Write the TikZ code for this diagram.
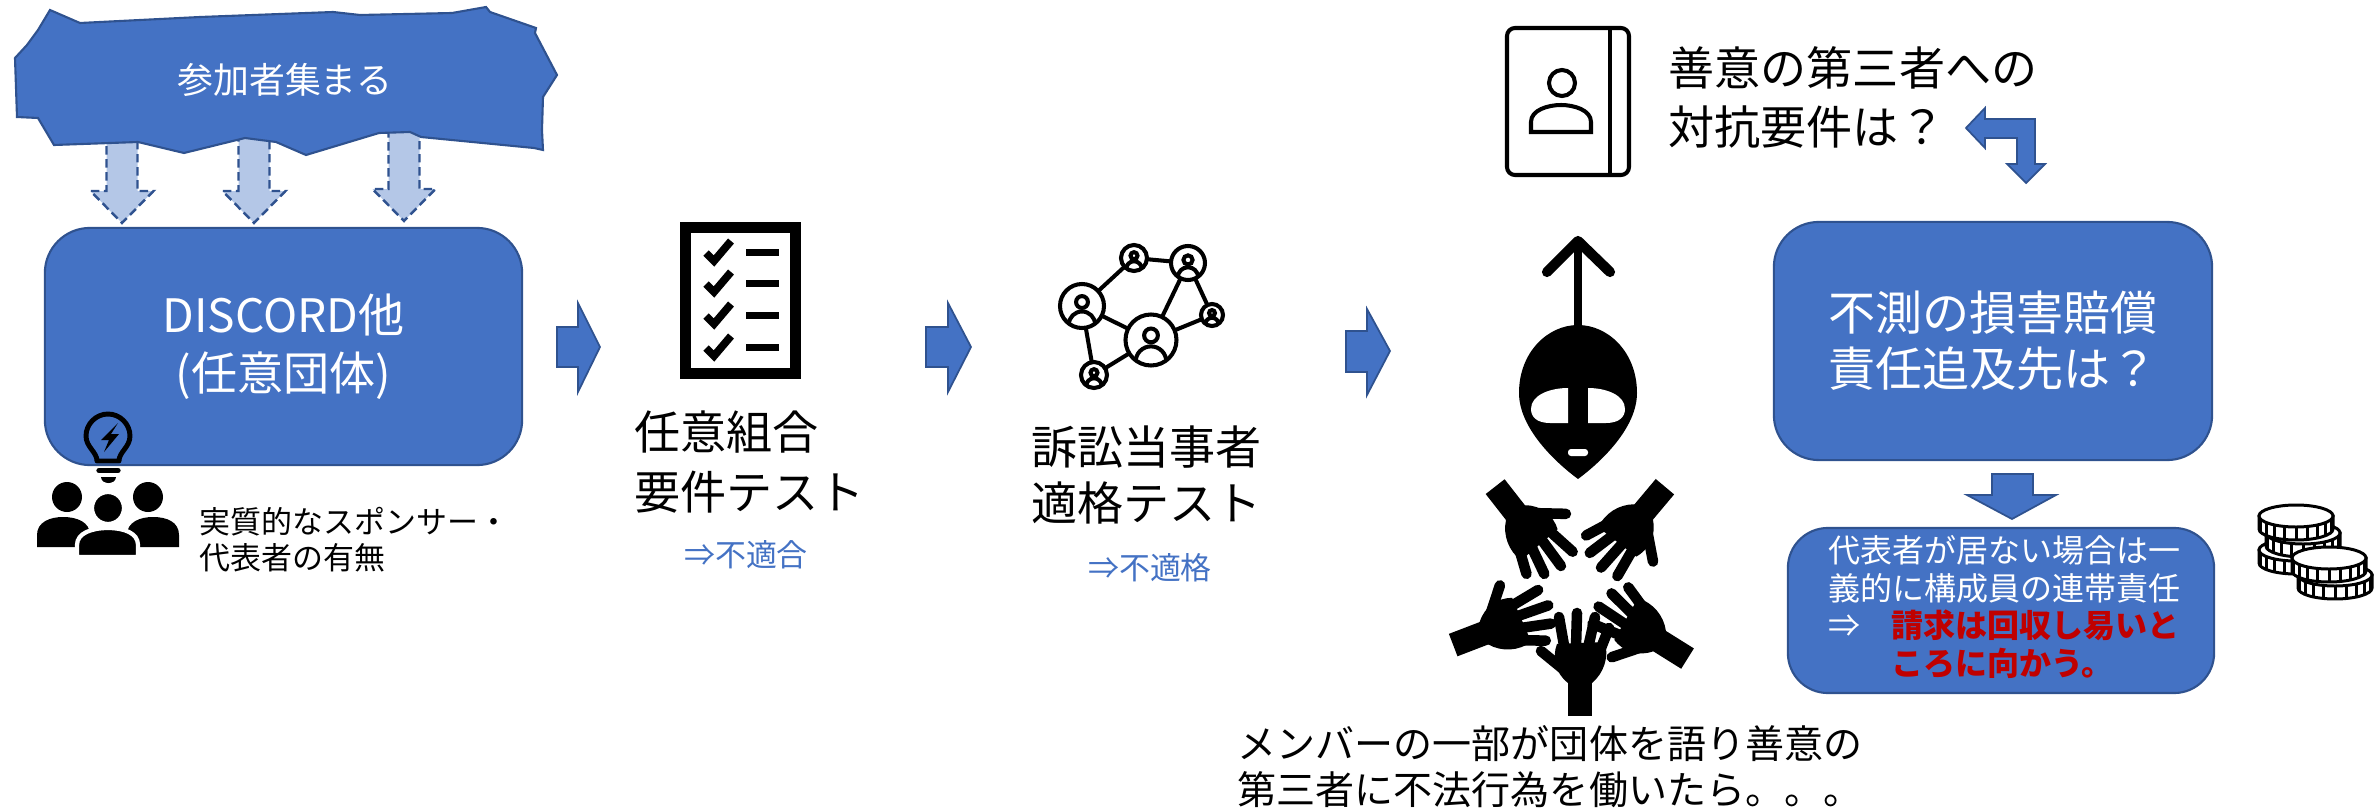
\documentclass[tikz,border=0pt]{standalone}
\usepackage{fontspec}
\setmainfont{Noto Sans CJK JP}
\definecolor{accent}{HTML}{4472C4}
\definecolor{accentdark}{HTML}{2F528F}
\definecolor{accentlight}{HTML}{B4C7E7}
\definecolor{alert}{HTML}{C00000}
\newcommand\fs[2]{\fontsize{#1}{#2}\selectfont}

% one coin: centre of the top face (#1,#2)
\newcommand\drawcoin[2]{%
  \filldraw[coinline,fill=white] (#1-37,#2) -- (#1-37,#2+13)
    .. controls (#1-37,#2+19.1) and (#1-20.4,#2+24) .. (#1,#2+24)
    .. controls (#1+20.4,#2+24) and (#1+37,#2+19.1) .. (#1+37,#2+13)
    -- (#1+37,#2) -- cycle;
  \foreach \t in {18,36,...,162}{\draw[coinline] ({#1+37*cos(\t)},{#2+11*sin(\t)}) -- ++(0,13);}
  \filldraw[coinline,fill=white] (#1,#2) ellipse[x radius=37,y radius=11];
}
% one member of the network: centre (#1,#2), radius #3
\newcommand\netperson[3]{%
  \filldraw[netline,fill=white] (#1,#2) circle[radius=#3];
  \begin{scope}
    \clip (#1,#2) circle[radius=#3];
    \draw[netline] (#1,#2+0.85*#3) circle[radius=0.6*#3];
  \end{scope}
  \draw[netline] (#1,#2-0.18*#3) circle[radius=0.27*#3];
}

\tikzset{
  bluebox/.style={draw=accentdark,fill=accent,line width=0.6pt,rounded corners=0.45cm,
    text=white,align=center,inner sep=0},
  blockarrow/.style={draw=accentdark,fill=accent,line width=0.5pt},
  dasharrow/.style={draw=accentdark,fill=accentlight,line width=0.7pt,dash pattern=on 2.4pt off 1.3pt},
  txt/.style={inner sep=0,align=left,anchor=west},
  coinline/.style={draw=black,line width=0.85pt},
  netline/.style={draw=black,line width=1.15pt},
  hand/.pic={
    \fill (-12,3) rectangle (12,-34);
    \fill (-12,-30) .. controls (-25,-40) and (-28,-56) .. (-23,-69) -- (25,-71)
      .. controls (29,-56) and (24,-40) .. (12,-30) -- cycle;
    \draw[line width=3pt,line cap=round]
      (-15,-62) -- (-21,-96) (-4,-66) -- (-3,-100) (8,-65) -- (15,-96)
      (19,-60) -- (29,-85) (-17,-44) -- (-39,-62);
  }
}

\begin{document}
\begin{tikzpicture}[x=0.01cm,y=-0.01cm]
\useasboundingbox (0,0) rectangle (2374,809);

% ---------- participants gather ----------
\foreach \c/\t in {122/191,254/191,404/189}{
  \path[dasharrow] (\c-15.5,120) -- (\c+15.5,120) -- (\c+15.5,\t) -- (\c+31.5,\t)
    -- (\c,\t+32) -- (\c-31.5,\t) -- (\c-15.5,\t) -- cycle;
}
\filldraw[draw=accentdark,fill=accent,line width=0.6pt]
  (50,10) -- (80,23) -- (200,17) -- (333,12) -- (360,15) -- (452,13) -- (486,7) -- (490,12)
  -- (536,28) -- (535,33) -- (557,75) -- (543,97) -- (542,130) -- (543,150) -- (534,148)
  -- (421,137) -- (410,132) -- (379,133) -- (306,155) -- (276,142) -- (245,138)
  -- (184,153) -- (138,142) -- (54,145) -- (38,118) -- (17,117) -- (15,58) -- (27,45)
  -- (38,30) -- cycle;
\node[inner sep=0,text=white,font={\fs{10.2pt}{12pt}}] (gather) at (285,80) {参加者集まる};

% ---------- voluntary group ----------
\node[bluebox,minimum width=4.77cm,minimum height=2.37cm,font={\fs{13.1pt}{16.5pt}}]
  (discord) at (283.5,346.5) {DISCORD他\\(任意団体)};

% light bulb
\draw[line width=1.4pt,line join=round] (97,461) .. controls (97,452) and (86,447) .. (86,436)
  .. controls (86,424) and (96,414) .. (108,414) .. controls (120,414) and (130,424) .. (130,436)
  .. controls (130,447) and (119,452) .. (119,461) -- cycle;
\fill (118,423) -- (101,440) -- (109,440) -- (104,452) -- (119,434) -- (111,434) -- cycle;
\draw[line width=1.5pt,line cap=round] (99,470.5) -- (118,470.5);
\fill (101,477) -- (116,477) .. controls (116,481) and (112,483) .. (108.5,483)
  .. controls (105,483) and (101,481) .. (101,477) -- cycle;

% group of people
\fill (67,497) circle[radius=15];
\fill (148,497) circle[radius=15];
\fill (37,547) -- (37,535) .. controls (37,522) and (50,517) .. (63,517)
  .. controls (77,517) and (90,522) .. (90,535) -- (90,547) -- cycle;
\fill (127,547) -- (127,535) .. controls (127,522) and (140,517) .. (153,517)
  .. controls (167,517) and (179,522) .. (179,535) -- (179,547) -- cycle;
\filldraw[fill=black,draw=white,line width=1.2pt] (108,508) circle[radius=16];
\filldraw[fill=black,draw=white,line width=1.2pt] (77,557) -- (77,545)
  .. controls (77,533) and (92,528) .. (108,528) .. controls (124,528) and (138,533) .. (138,545)
  -- (138,557) -- cycle;
\node[txt,font={\fs{8.8pt}{10.3pt}}] (sponsor) at (199,540) {実質的なスポンサー・\\代表者の有無};

% ---------- step arrows ----------
\path[blockarrow] (557,327) -- (578,327) -- (578,303) -- (600,347) -- (578,392) -- (578,367) -- (557,367) -- cycle;
\path[blockarrow] (926,327) -- (948,327) -- (948,303) -- (971,347) -- (948,392) -- (948,367) -- (926,367) -- cycle;
\path[blockarrow] (1346,331) -- (1367,331) -- (1367,309) -- (1390,351) -- (1367,395) -- (1367,372) -- (1346,372) -- cycle;

% ---------- checklist ----------
\draw[line width=3.1pt] (685.5,227.5) rectangle (795.5,373.5);
\foreach \y in {252,283,315,347}{
  \draw[line width=2.2pt] (706,\y+1) -- (714,\y+9) -- (731,\y-11);
  \fill (746,\y-3.5) rectangle (779,\y+3.5);
}
\node[txt,font={\fs{13.1pt}{16.8pt}}] (kumiai) at (634,462) {任意組合\\要件テスト};
\node[inner sep=0,text=accent,font={\fs{8.8pt}{10pt}}] (futekigo) at (746,555) {⇒不適合};

% ---------- network ----------
\coordinate (nA) at (1134,258);
\coordinate (nB) at (1188,263);
\coordinate (nC) at (1082,306);
\coordinate (nD) at (1212,315);
\coordinate (nE) at (1151,340);
\coordinate (nF) at (1094,375);
\draw[netline] (nA) -- (nB) (nA) -- (nC) (nC) -- (nE) (nC) -- (nF) (nF) -- (nE)
  (nE) -- (nB) (nE) -- (nD) (nB) -- (nD);
\netperson{1134}{258}{13}
\netperson{1188}{263}{17}
\netperson{1082}{306}{22}
\netperson{1212}{315}{11}
\netperson{1151}{340}{25.5}
\netperson{1094}{375}{13}
\node[txt,font={\fs{13.1pt}{15.9pt}}] (sosho) at (1031,475) {訴訟当事者\\適格テスト};
\node[inner sep=0,text=accent,font={\fs{8.8pt}{10pt}}] (futekikaku) at (1150,568) {⇒不適格};

% ---------- alien and hands ----------
\draw[line width=2pt] (1578,330) -- (1578,245);
\draw[line width=2.9pt,line cap=round,line join=round] (1547,272) -- (1578,241) -- (1610,272);
\fill (1578,479) .. controls (1555,462) and (1519,428) .. (1519,393)
  .. controls (1519,352) and (1548,325) .. (1578,325) .. controls (1608,325) and (1637,352) .. (1637,393)
  .. controls (1637,428) and (1601,462) .. (1578,479) -- cycle;
\fill[white] (1568,388) -- (1568,423) -- (1550,423) .. controls (1537,423) and (1531,417) .. (1531,409)
  .. controls (1531,395) and (1550,388) .. (1568,388) -- cycle;
\fill[white] (1588,388) -- (1588,423) -- (1606,423) .. controls (1619,423) and (1625,417) .. (1625,409)
  .. controls (1625,395) and (1606,388) .. (1588,388) -- cycle;
\fill[white,rounded corners=0.03cm] (1568,449) rectangle (1588,456);
\pic at (1580,713) {hand};
\pic[rotate=-69] at (1456,644) {hand};
\pic[rotate=-142] at (1497,489) {hand};
\pic[rotate=140] at (1663,489) {hand};
\pic[rotate=58] at (1685,657) {hand};
\node[txt,font={\fs{11.1pt}{13.1pt}}] (member) at (1237,767)
  {メンバーの一部が団体を語り善意の\\第三者に不法行為を働いたら。。。};

% ---------- third party ----------
\draw[line width=1.15pt,rounded corners=0.08cm] (1507,28) rectangle (1629,175);
\draw[line width=1.15pt] (1610,28) -- (1610,175);
\draw[line width=1.15pt] (1562,83) circle[radius=13];
\draw[line width=1.15pt] (1531,132) -- (1531,122) .. controls (1531,110) and (1548,105) .. (1561,105)
  .. controls (1574,105) and (1591,110) .. (1591,122) -- (1591,132) -- cycle;
\node[txt,font={\fs{13.1pt}{16.8pt}}] (taiko) at (1668,97) {善意の第三者への\\対抗要件は？};
\path[blockarrow] (1966,128) -- (1985,108) -- (1985,119) -- (2035,119) -- (2035,164) -- (2045,164)
  -- (2026,183) -- (2007,164) -- (2017,164) -- (2017,138) -- (1985,138) -- (1985,148) -- cycle;

% ---------- liability ----------
\node[bluebox,minimum width=4.38cm,minimum height=2.38cm,font={\fs{13.4pt}{15.9pt}}]
  (liability) at (1993,341) {不測の損害賠償\\責任追及先は？};
\path[blockarrow] (1992,474) -- (2033,474) -- (2033,495) -- (2056,495) -- (2012,519) -- (1967,495)
  -- (1992,495) -- cycle;
\node[bluebox,rounded corners=0.4cm,minimum width=4.26cm,minimum height=1.65cm] (joint) at (2001,610.5) {};
\node[txt,text=white,font={\fs{9.1pt}{10.8pt}}] (jointtext) at (1828,607)
  {代表者が居ない場合は一\\義的に構成員の連帯責任\\\makebox[0.63cm][l]{⇒}{\color{alert}\bfseries 請求は回収し易いと}\\\hspace*{0.63cm}{\color{alert}\bfseries ころに向かう。}};

% coins
\drawcoin{2296}{550}
\drawcoin{2303}{533}
\drawcoin{2296}{516}
\drawcoin{2335}{575}
\drawcoin{2329}{558}
\end{tikzpicture}
\end{document}
